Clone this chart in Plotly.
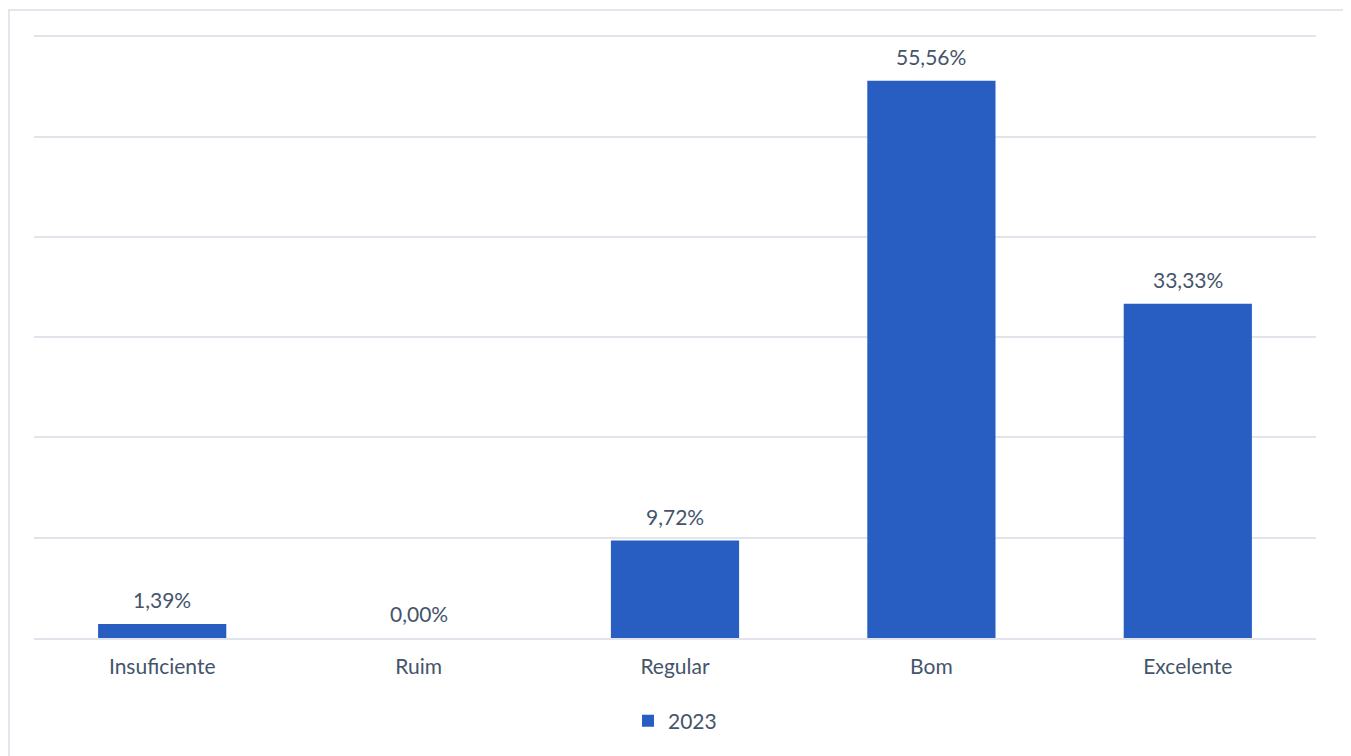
import plotly.graph_objects as go

categories = ["Insuficiente", "Ruim", "Regular", "Bom", "Excelente"]
values_2023 = [1.39, 0.00, 9.72, 55.56, 33.33]
series_name = "2023"

text_color = "#44546A"
grid_color = "#E1E4EA"
bar_color = "#285DC2"

fig = go.Figure()
fig.add_trace(go.Bar(
    x=categories,
    y=values_2023,
    name=series_name,
    marker=dict(color=bar_color, line=dict(width=0)),
    showlegend=True,
))

annotations = [
    dict(
        x=c, y=v, xref="x", yref="y",
        text=f"{v:.2f}%".replace(".", ","),
        showarrow=False, yanchor="bottom", yshift=10,
        font=dict(size=21, color=text_color, family="Lato"),
    )
    for c, v in zip(categories, values_2023)
]

# page body has an 8px margin; offset margins accordingly
fig.update_layout(
    width=1351,
    height=756,
    separators=",.",
    paper_bgcolor="white",
    plot_bgcolor="white",
    margin=dict(l=26, r=43, t=27, b=126),
    bargap=0.5,
    font=dict(family="Lato", size=21, color=text_color),
    showlegend=True,
    legend=dict(
        orientation="h",
        x=0.5, xanchor="center",
        y=-0.138, yanchor="middle",
        font=dict(size=21, color=text_color),
        itemwidth=30,
    ),
    annotations=annotations,
    xaxis=dict(
        showgrid=False,
        showline=True,
        linecolor=grid_color,
        linewidth=2,
        ticks="outside",
        ticklen=9,
        tickcolor="rgba(0,0,0,0)",
        tickfont=dict(size=21, color=text_color),
    ),
    yaxis=dict(
        range=[0, 60.12],
        dtick=10,
        showgrid=True,
        gridcolor=grid_color,
        gridwidth=2,
        showticklabels=False,
        zeroline=False,
        showline=False,
    ),
    shapes=[dict(
        type="rect", xref="paper", yref="paper",
        x0=-25/1282, x1=1311/1282, y0=-130/603, y1=1+25/603,
        line=dict(color="#E3E6EC", width=2),
        fillcolor="rgba(0,0,0,0)",
        layer="below",
    )],
)

fig.write_html("out.html")
